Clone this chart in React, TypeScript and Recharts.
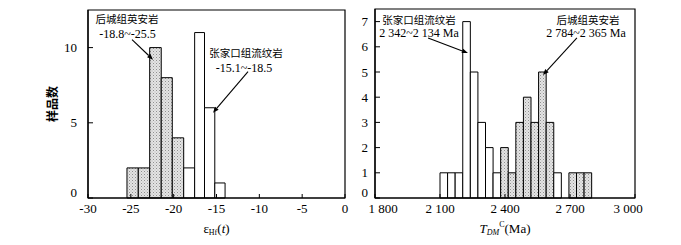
import {
  ComposedChart,
  XAxis,
  YAxis,
  ReferenceArea,
  ReferenceLine,
  ReferenceDot,
} from "recharts";

const SERIF = '"Liberation Serif", "DejaVu Serif", serif';
const CJK = '"Noto Sans CJK SC", sans-serif';

// εHf(t) histogram (left)
const leftEdges = [-25.45, -24.13, -22.8, -21.45, -20.16, -18.83, -17.55, -16.4, -15.2, -14.0];
const leftCounts = [2, 2, 10, 8, 4, 2, 11, 6, 1];
const leftGroups = ["hc", "hc", "hc", "hc", "hc", "zjk", "zjk", "zjk", "zjk"];
const leftXTicks = [-30, -25, -20, -15, -10, -5, 0];
const leftYTicks = [0, 5, 10];

// TDM^C histogram (right)
const rightBinStart = [
  2100, 2135, 2170, 2205, 2240, 2275, 2310, 2345, 2380, 2415, 2450, 2485, 2520, 2555, 2590,
  2625, 2695, 2730, 2765,
];
const rightBinWidth = 35;
const rightCounts = [1, 1, 1, 7, 5, 3, 2, 1, 2, 1, 3, 4, 3, 5, 3, 1, 1, 1, 1];
const rightGroups = [
  "zjk", "zjk", "zjk", "zjk", "zjk", "zjk", "zjk", "zjk",
  "hc", "hc", "hc", "hc", "hc", "hc", "hc", "zjk", "hc", "hc", "hc",
];
const rightXTicks = [1800, 2100, 2400, 2700, 3000];
const rightYTicks = [0, 1, 2, 3, 4, 5, 6, 7];

// annotation text and arrows, in data units
const leftNotes = [
  { x: -25.45, y: 11.87, text: "后城组英安岩", cjk: true },
  { x: -25.4, y: 10.93, text: "-18.8~-25.5", cjk: false },
  { x: -11.56, y: 9.6, text: "张家口组流纹岩", cjk: true },
  { x: -11.79, y: 8.67, text: "-15.1~-18.5", cjk: false },
];
const leftArrows = [
  [-24.86, 10.53, -22.41, 9.2],
  [-11.32, 8.4, -15.41, 5.67],
];
const rightNotes = [
  { x: 2003, y: 7.06, text: "张家口组流纹岩", cjk: true },
  { x: 2003, y: 6.55, text: "2 342~2 134 Ma", cjk: false },
  { x: 2783, y: 7.06, text: "后城组英安岩", cjk: true },
  { x: 2774, y: 6.55, text: "2 784~2 365 Ma", cjk: false },
];
const rightArrows = [
  [2045, 6.35, 2229, 5.75],
  [2732, 6.35, 2575, 4.88],
];

const fillFor = (g: string) => (g === "hc" ? "url(#stipple)" : "#fff");

const Arrow = (props: any) => {
  const { x1, y1, x2, y2 } = props;
  const a = Math.atan2(y2 - y1, x2 - x1);
  const L = 6;
  const W = 2.3;
  const bx = x2 - L * Math.cos(a);
  const by = y2 - L * Math.sin(a);
  const pts = `${x2},${y2} ${bx + W * Math.sin(a)},${by - W * Math.cos(a)} ${bx - W * Math.sin(a)},${by + W * Math.cos(a)}`;
  return (
    <g>
      <line x1={x1} y1={y1} x2={bx} y2={by} stroke="#000" strokeWidth={1.1} />
      <polygon points={pts} fill="#000" />
    </g>
  );
};

const noteLabel = (n: any) => ({
  value: n.text,
  position: "center" as const,
  fill: "#000",
  fontSize: n.cjk ? 10.5 : 12,
  fontFamily: n.cjk ? CJK : SERIF,
});

const thousands = (v: number) => {
  const s = String(v);
  return s.length > 3 ? s.slice(0, s.length - 3) + " " + s.slice(-3) : s;
};

// tick labels; end labels are nudged inwards like the printed figure
const xTick = (fmt: (v: number) => string, first?: number, last?: number) => (p: any) => {
  const v = p.payload.value;
  const dx = v === first ? 8 : v === last ? -7 : 0;
  return (
    <text x={p.x + dx} y={p.y} dy="0.71em" textAnchor="middle" fill="#000" fontSize={13} fontFamily={SERIF}>
      {fmt(v)}
    </text>
  );
};
const yTick = (p: any) => {
  const v = p.payload.value;
  return (
    <text x={p.x} y={p.y} dy={v === 0 ? "-0.05em" : "0.355em"} textAnchor="end" fill="#000" fontSize={13} fontFamily={SERIF}>
      {v}
    </text>
  );
};

export default function App() {
  return (
    <div style={{ position: "absolute", left: 0, top: 0, width: 681, height: 245, background: "#fff" }}>
      <svg width={0} height={0} style={{ position: "absolute" }}>
        <defs>
          <pattern id="stipple" width={3} height={3} patternUnits="userSpaceOnUse">
            <rect width={3} height={3} fill="#e4e4e4" />
            <rect x={0} y={0} width={1} height={1} fill="#909090" />
            <rect x={1.5} y={1.5} width={1} height={1} fill="#b0b0b0" />
          </pattern>
        </defs>
      </svg>

      {/* εHf(t) */}
      <div style={{ position: "absolute", left: 0, top: 0 }}>
        <ComposedChart width={350} height={245} margin={{ top: 10, right: 5, left: 0, bottom: 0 }}>
          <XAxis
            type="number"
            dataKey="x"
            domain={[-30, 0]}
            ticks={leftXTicks}
            interval={0}
            allowDataOverflow
            height={47}
            tickSize={-4}
            tickMargin={10}
            tick={xTick(String)}
            axisLine={{ stroke: "#000", strokeWidth: 1.2 }}
            tickLine={{ stroke: "#000" }}
            label={{
              content: (p: any) => {
                const cx = p.viewBox.x + p.viewBox.width / 2;
                return (
                  <text x={cx} y={p.viewBox.y + 35} textAnchor="middle" fill="#000" fontFamily={SERIF}>
                    <tspan fontSize={13}>ε</tspan>
                    <tspan fontSize={8} dy={2}>Hf</tspan>
                    <tspan fontSize={13} dy={-2}>(</tspan>
                    <tspan fontSize={13} fontStyle="italic">t</tspan>
                    <tspan fontSize={13}>)</tspan>
                  </text>
                );
              },
            }}
          />
          <YAxis
            type="number"
            domain={[0, 12.5]}
            ticks={leftYTicks}
            interval={0}
            allowDataOverflow
            width={88}
            tickSize={-5}
            tickMargin={16}
            tick={yTick}
            axisLine={{ stroke: "#000", strokeWidth: 1.2 }}
            tickLine={{ stroke: "#000" }}
            label={{
              value: "样品数",
              angle: -90,
              position: "center",
              dx: 9,
              fill: "#000",
              fontSize: 12,
              fontWeight: "bold",
              fontFamily: CJK,
            }}
          />
          {leftCounts.map((c, i) => (
            <ReferenceArea
              key={i}
              x1={leftEdges[i]}
              x2={leftEdges[i + 1]}
              y1={0}
              y2={c}
              fill={fillFor(leftGroups[i])}
              fillOpacity={1}
              stroke="#000"
              strokeWidth={1}
            />
          ))}
          <ReferenceArea x1={-30} x2={0} y1={0} y2={12.5} fill="none" stroke="#000" strokeWidth={1.2} />
          {leftNotes.map((n, i) => (
            <ReferenceDot key={i} x={n.x} y={n.y} r={0} stroke="none" label={noteLabel(n)} />
          ))}
          {leftArrows.map((a, i) => (
            <ReferenceLine
              key={i}
              segment={[
                { x: a[0], y: a[1] },
                { x: a[2], y: a[3] },
              ]}
              shape={Arrow}
            />
          ))}
        </ComposedChart>
      </div>

      {/* TDM^C */}
      <div style={{ position: "absolute", left: 345, top: 0 }}>
        <ComposedChart width={336} height={245} margin={{ top: 9, right: 46, left: 0, bottom: 0 }}>
          <XAxis
            type="number"
            dataKey="x"
            domain={[1800, 3000]}
            ticks={rightXTicks}
            interval={0}
            allowDataOverflow
            height={47}
            tickSize={-4}
            tickMargin={10}
            tick={xTick(thousands, 1800, 3000)}
            axisLine={{ stroke: "#000", strokeWidth: 1.2 }}
            tickLine={{ stroke: "#000" }}
            label={{
              content: (p: any) => {
                const cx = p.viewBox.x + p.viewBox.width / 2;
                return (
                  <text x={cx} y={p.viewBox.y + 35} textAnchor="middle" fill="#000" fontFamily={SERIF}>
                    <tspan fontSize={13} fontStyle="italic">T</tspan>
                    <tspan fontSize={8} fontStyle="italic" dy={2}>DM</tspan>
                    <tspan fontSize={8} dy={-8}>C</tspan>
                    <tspan fontSize={13} dy={6}>(Ma)</tspan>
                  </text>
                );
              },
            }}
          />
          <YAxis
            type="number"
            domain={[0, 7.5]}
            ticks={rightYTicks}
            interval={0}
            allowDataOverflow
            width={30}
            tickSize={-5}
            tickMargin={12}
            tick={yTick}
            axisLine={{ stroke: "#000", strokeWidth: 1.2 }}
            tickLine={{ stroke: "#000" }}
          />
          {rightCounts.map((c, i) => (
            <ReferenceArea
              key={i}
              x1={rightBinStart[i]}
              x2={rightBinStart[i] + rightBinWidth}
              y1={0}
              y2={c}
              fill={fillFor(rightGroups[i])}
              fillOpacity={1}
              stroke="#000"
              strokeWidth={1}
            />
          ))}
          <ReferenceArea x1={1800} x2={3000} y1={0} y2={7.5} fill="none" stroke="#000" strokeWidth={1.2} />
          {rightNotes.map((n, i) => (
            <ReferenceDot key={i} x={n.x} y={n.y} r={0} stroke="none" label={noteLabel(n)} />
          ))}
          {rightArrows.map((a, i) => (
            <ReferenceLine
              key={i}
              segment={[
                { x: a[0], y: a[1] },
                { x: a[2], y: a[3] },
              ]}
              shape={Arrow}
            />
          ))}
        </ComposedChart>
      </div>
    </div>
  );
}
